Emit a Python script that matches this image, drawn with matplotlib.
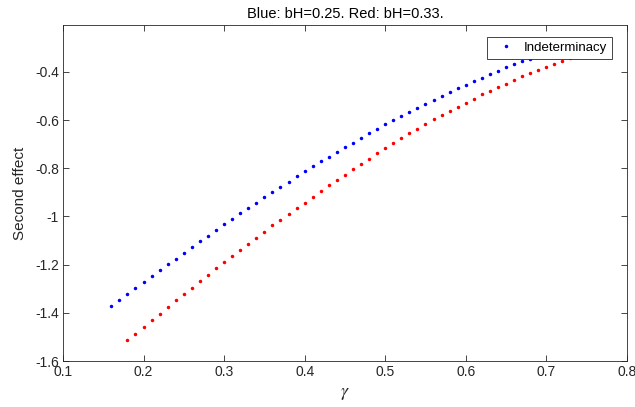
import matplotlib
matplotlib.use("Agg")
import matplotlib.pyplot as plt

plt.rcParams["font.family"] = ["Liberation Sans", "DejaVu Sans"]
plt.rcParams["mathtext.fontset"] = "stix"

# gamma grid and second effect values
gamma_blue = [0.16, 0.17, 0.18, 0.19, 0.20, 0.21, 0.22, 0.23, 0.24, 0.25,
              0.26, 0.27, 0.28, 0.29, 0.30, 0.31, 0.32, 0.33, 0.34, 0.35,
              0.36, 0.37, 0.38, 0.39, 0.40, 0.41, 0.42, 0.43, 0.44, 0.45,
              0.46, 0.47, 0.48, 0.49, 0.50, 0.51, 0.52, 0.53, 0.54, 0.55,
              0.56, 0.57, 0.58, 0.59, 0.60, 0.61, 0.62, 0.63, 0.64, 0.65,
              0.66, 0.67, 0.68]
effect_blue = [-1.372, -1.347, -1.322, -1.297, -1.272, -1.249, -1.224, -1.199,
               -1.176, -1.151, -1.127, -1.102, -1.079, -1.056, -1.033, -1.011,
               -0.987, -0.965, -0.943, -0.921, -0.899, -0.877, -0.856, -0.834,
               -0.813, -0.792, -0.771, -0.752, -0.733, -0.713, -0.693, -0.673,
               -0.654, -0.636, -0.617, -0.599, -0.581, -0.566, -0.549, -0.533,
               -0.516, -0.499, -0.484, -0.468, -0.453, -0.437, -0.423, -0.409,
               -0.395, -0.381, -0.369, -0.356, -0.346]

gamma_red = [0.18, 0.19, 0.20, 0.21, 0.22, 0.23, 0.24, 0.25, 0.26, 0.27,
             0.28, 0.29, 0.30, 0.31, 0.32, 0.33, 0.34, 0.35, 0.36, 0.37,
             0.38, 0.39, 0.40, 0.41, 0.42, 0.43, 0.44, 0.45, 0.46, 0.47,
             0.48, 0.49, 0.50, 0.51, 0.52, 0.53, 0.54, 0.55, 0.56, 0.57,
             0.58, 0.59, 0.60, 0.61, 0.62, 0.63, 0.64, 0.65, 0.66, 0.67,
             0.68, 0.69, 0.70, 0.71, 0.72, 0.73]
effect_red = [-1.514, -1.487, -1.459, -1.431, -1.404, -1.376, -1.348, -1.322,
              -1.296, -1.269, -1.243, -1.215, -1.191, -1.164, -1.138, -1.113,
              -1.088, -1.063, -1.037, -1.014, -0.989, -0.965, -0.942, -0.918,
              -0.895, -0.871, -0.849, -0.827, -0.803, -0.781, -0.761, -0.738,
              -0.717, -0.697, -0.676, -0.655, -0.636, -0.617, -0.597, -0.579,
              -0.564, -0.546, -0.529, -0.512, -0.493, -0.478, -0.463, -0.448,
              -0.432, -0.418, -0.405, -0.391, -0.380, -0.368, -0.355, -0.344]

x_ticks = [0.1, 0.2, 0.3, 0.4, 0.5, 0.6, 0.7, 0.8]
x_labels = ["0.1", "0.2", "0.3", "0.4", "0.5", "0.6", "0.7", "0.8"]
y_ticks = [-1.6, -1.4, -1.2, -1.0, -0.8, -0.6, -0.4]
y_labels = ["-1.6", "-1.4", "-1.2", "-1", "-0.8", "-0.6", "-0.4"]

axis_col = (0.15, 0.15, 0.15)

fig = plt.figure(figsize=(6.35, 4.07), dpi=100)
ax = fig.add_axes([0.0992, 0.113, 0.888, 0.8256])

ax.plot(gamma_blue, effect_blue, ".", color="blue", ms=3, label="Indeterminacy")
ax.plot(gamma_red, effect_red, ".", color="red", ms=3)

ax.set_xlim(0.1, 0.8)
ax.set_ylim(-1.6, -0.205)
ax.set_xticks(x_ticks)
ax.set_xticklabels(x_labels)
ax.set_yticks(y_ticks)
ax.set_yticklabels(y_labels)
ax.tick_params(direction="in", top=True, right=True, length=4, width=0.6,
               colors=axis_col, labelsize=10, pad=3)
for s in ax.spines.values():
    s.set_color(axis_col)
    s.set_linewidth(0.6)

ax.set_title("Blue: bH=0.25. Red: bH=0.33.", fontsize=10.5, color="black", pad=5)
ax.set_ylabel("Second effect", fontsize=11, color=axis_col, labelpad=6)
ax.set_xlabel(r"$\gamma$", fontsize=13, color=axis_col, labelpad=4)

leg = ax.legend(loc="upper right", bbox_to_anchor=(0.973, 0.964), borderaxespad=0,
                fontsize=9.5, fancybox=False, framealpha=1, edgecolor=(0.15, 0.15, 0.15),
                handlelength=2.1, handletextpad=0.3, borderpad=0.35, markerscale=1.0,
                numpoints=1)
leg.get_frame().set_linewidth(0.6)

fig.savefig("out.png", dpi=100)
